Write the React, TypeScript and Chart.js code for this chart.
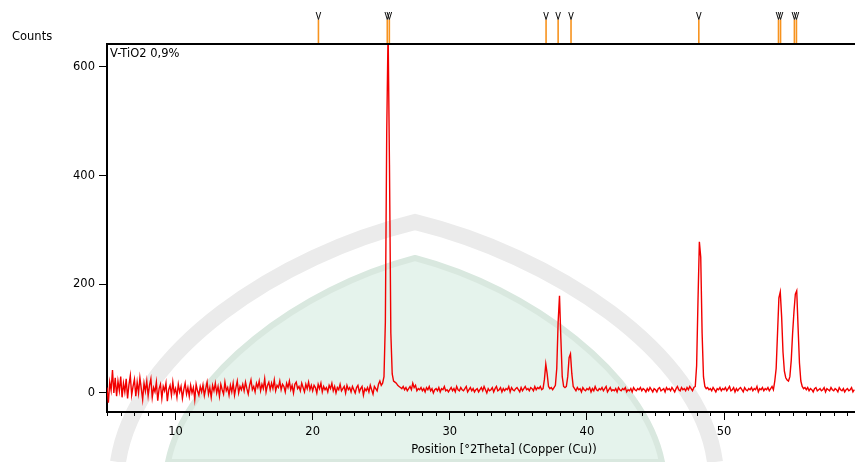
import React, { useEffect, useRef } from "react";
import { Chart, registerables } from "chart.js";

Chart.register(...registerables);

// XRD pattern: counts sampled every 0.1 deg 2Theta starting at 5.0 (one row per degree)
const startAngle = 5.0;
const angleStep = 0.1;
const counts: number[] = [
  10, -18, 20, 5, 42, 0, 28, -6, 22, 4, // 5
  30, -8, 18, 2, 26, -10, 15, 32, -4, 12, // 6
  25, -6, 20, 0, 28, 8, -12, 18, 3, 22, // 7
  -5, 14, 26, -8, 10, 2, 20, -14, 8, 16, // 8
  -10, 12, 4, 18, -15, 6, 14, -4, 20, 0, // 9
  8, -8, 16, 2, 12, -10, 6, 18, -2, 10, // 10
  -6, 14, 0, 10, -12, 16, 4, -4, 12, 2, // 11
  15, -5, 8, 20, -2, 10, -8, 14, 4, 18, // 12
  0, 12, -6, 16, 6, -2, 20, 4, 10, -4, // 13
  14, 2, 18, -4, 10, 22, 0, 12, 6, 16, // 14
  4, 20, 8, -2, 14, 24, 6, 12, 2, 18, // 15
  10, 22, 4, 16, 8, 26, 2, 14, 20, 6, // 16
  18, 8, 24, 4, 14, 10, 22, 6, 16, 12, // 17
  2, 18, 10, 22, 6, 14, 0, 16, 20, 8, // 18
  12, 4, 18, 10, 2, 16, 8, 20, 6, 14, // 19
  4, 14, 10, 0, 16, 8, 18, 2, 12, 6, // 20
  10, 2, 14, 8, 18, 4, 12, 0, 10, 6, // 21
  16, 4, 8, 12, 0, 14, 6, 10, 2, 12, // 22
  6, 0, 10, 14, 2, 8, 12, -4, 8, 4, // 23
  10, 2, 14, 6, -2, 12, 8, 4, 16, 22, // 24
  14, 18, 30, 130, 480, 670, 420, 110, 35, 22, // 25
  20, 18, 14, 12, 10, 8, 12, 6, 10, 4, // 26
  8, 12, 6, 18, 10, 14, 4, 8, 6, 10, // 27
  4, 8, 2, 10, 6, 12, 4, 8, 0, 6, // 28
  8, 4, 10, 2, 8, 6, 12, 4, 6, 2, // 29
  6, 10, 4, 8, 2, 12, 6, 4, 10, 6, // 30
  4, 8, 12, 2, 6, 10, 4, 8, 2, 6, // 31
  8, 2, 6, 10, 4, 12, 6, 0, 8, 4, // 32
  6, 10, 2, 8, 12, 4, 6, 10, 2, 8, // 33
  4, 8, 6, 12, 2, 10, 6, 4, 8, 10, // 34
  6, 2, 10, 4, 8, 12, 6, 8, 4, 10, // 35
  8, 4, 12, 6, 10, 8, 12, 6, 8, 25, // 36
  53, 35, 12, 8, 10, 6, 10, 14, 45, 130, // 37
  179, 100, 30, 12, 10, 12, 30, 65, 72, 35, // 38
  12, 8, 4, 10, 6, 8, 2, 10, 6, 4, // 39
  8, 6, 10, 2, 8, 4, 12, 6, 4, 8, // 40
  6, 10, 4, 8, 12, 2, 6, 10, 4, 6, // 41
  4, 8, 2, 10, 6, 4, 8, 6, 10, 2, // 42
  6, 4, 8, 2, 10, 6, 4, 8, 6, 10, // 43
  4, 8, 6, 2, 8, 4, 10, 6, 2, 8, // 44
  6, 2, 8, 10, 4, 6, 8, 2, 10, 6, // 45
  8, 4, 10, 6, 2, 8, 12, 6, 4, 10, // 46
  6, 8, 4, 10, 6, 12, 8, 4, 10, 12, // 47
  50, 170, 278, 250, 110, 30, 12, 8, 10, 6, // 48
  8, 4, 10, 6, 2, 8, 6, 10, 4, 8, // 49
  6, 10, 4, 8, 12, 4, 6, 10, 2, 8, // 50
  4, 8, 10, 6, 2, 10, 6, 4, 8, 6, // 51
  10, 4, 8, 6, 12, 2, 8, 6, 10, 4, // 52
  8, 6, 10, 4, 8, 12, 6, 22, 45, 110, // 53
  175, 186, 140, 75, 40, 28, 24, 22, 30, 60, // 54
  110, 150, 182, 188, 120, 55, 22, 12, 8, 10, // 55
  6, 10, 4, 8, 6, 2, 8, 10, 4, 6, // 56
  8, 4, 6, 10, 2, 8, 6, 4, 10, 6, // 57
  4, 8, 6, 2, 10, 6, 4, 8, 2, 6, // 58
  8, 4, 6, 10, 2, 6, // 59
];

// Reference pattern peak positions (markers above the plot)
const refPeaks: number[] = [20.42, 25.44, 25.59, 37.02, 37.9, 38.84, 48.16, 53.97, 54.12, 55.13, 55.28];

const xMajorTicks: number[] = [10, 20, 30, 40, 50];
const yTicks: number[] = [0, 200, 400, 600];
const xMin = 5;
const xMax = 59.55;
const yMin = -35;
const yMax = 642;

const sampleLabel = "V-TiO2 0,9%";
const yAxisLabel = "Counts";
const xAxisLabel = "Position [°2Theta] (Copper (Cu))";

const FONT = "DejaVu Sans";
const FONT_SIZE = 11.5;

const decorPlugin = {
  id: "decor",
  beforeDraw(chart: any) {
    const ctx = chart.ctx;
    ctx.save();
    // faint watermark shapes
    ctx.fillStyle = "#e5f3ec";
    ctx.beginPath();
    ctx.moveTo(168, 462);
    ctx.bezierCurveTo(185, 375, 300, 288, 415, 258);
    ctx.bezierCurveTo(530, 288, 645, 375, 662, 462);
    ctx.closePath();
    ctx.fill();
    ctx.strokeStyle = "#d9e8df";
    ctx.lineWidth = 6;
    ctx.stroke();
    ctx.strokeStyle = "#ebebeb";
    ctx.lineWidth = 16;
    ctx.beginPath();
    ctx.moveTo(118, 462);
    ctx.bezierCurveTo(135, 350, 280, 255, 415, 222);
    ctx.bezierCurveTo(550, 255, 700, 350, 715, 462);
    ctx.stroke();
    ctx.restore();
  },
  afterDraw(chart: any) {
    const ctx = chart.ctx;
    const area = chart.chartArea;
    const xs = chart.scales.x;
    ctx.save();
    // top frame line
    ctx.strokeStyle = "#000";
    ctx.lineWidth = 2;
    ctx.beginPath();
    ctx.moveTo(area.left - 1, area.top);
    ctx.lineTo(area.right, area.top);
    ctx.stroke();
    // minor ticks on x axis
    ctx.lineWidth = 1;
    for (let v = Math.ceil(xMin); v <= xMax; v++) {
      if (v % 10 === 0) continue;
      const px = Math.round(xs.getPixelForValue(v)) + 0.5;
      ctx.beginPath();
      ctx.moveTo(px, area.bottom);
      ctx.lineTo(px, area.bottom + 4);
      ctx.stroke();
    }
    // reference peak markers
    for (const p of refPeaks) {
      const px = xs.getPixelForValue(p);
      ctx.strokeStyle = "#f7931e";
      ctx.lineWidth = 1.6;
      ctx.beginPath();
      ctx.moveTo(px, 19.5);
      ctx.lineTo(px, area.top - 1);
      ctx.stroke();
      ctx.strokeStyle = "#111";
      ctx.lineWidth = 1;
      ctx.beginPath();
      ctx.moveTo(px - 2.3, 12);
      ctx.lineTo(px, 19.5);
      ctx.lineTo(px + 2.3, 12);
      ctx.stroke();
    }
    // texts
    ctx.fillStyle = "#000";
    ctx.font = `${FONT_SIZE}px "${FONT}"`;
    ctx.textBaseline = "alphabetic";
    ctx.textAlign = "left";
    ctx.fillText(yAxisLabel, 12, 40);
    ctx.fillText(sampleLabel, area.left + 3, 57);
    ctx.textAlign = "center";
    ctx.fillText(xAxisLabel, 504, 453);
    ctx.restore();
  },
};

export default function App() {
  const ref = useRef<HTMLCanvasElement | null>(null);
  useEffect(() => {
    if (!ref.current) return;
    const points = counts.map((c, i) => ({ x: +(startAngle + i * angleStep).toFixed(2), y: c }));
    const chart = new Chart(ref.current, {
      type: "line",
      data: {
        datasets: [
          {
            data: points,
            borderColor: "#f20000",
            borderWidth: 1.4,
            pointRadius: 0,
            tension: 0,
            fill: false,
          },
        ],
      },
      options: {
        animation: false,
        responsive: false,
        maintainAspectRatio: false,
        layout: { padding: { top: 44, left: 0, right: 0, bottom: 0 } },
        plugins: { legend: { display: false }, tooltip: { enabled: false } },
        scales: {
          x: {
            type: "linear",
            min: xMin,
            max: xMax,
            afterFit: (s: any) => {
              s.height = 50;
            },
            afterBuildTicks: (s: any) => {
              s.ticks = xMajorTicks.map((v) => ({ value: v }));
            },
            ticks: {
              color: "#000",
              font: { family: FONT, size: FONT_SIZE },
              padding: 5,
              maxRotation: 0,
              autoSkip: false,
            },
            grid: { drawOnChartArea: false, drawTicks: true, tickLength: 8, tickColor: "#000", tickWidth: 1 },
            border: { display: true, color: "#000", width: 2 },
          },
          y: {
            type: "linear",
            min: yMin,
            max: yMax,
            afterFit: (s: any) => {
              s.width = 107;
            },
            afterBuildTicks: (s: any) => {
              s.ticks = yTicks.map((v) => ({ value: v }));
            },
            ticks: {
              color: "#000",
              font: { family: FONT, size: FONT_SIZE },
              padding: 4,
              autoSkip: false,
            },
            grid: { drawOnChartArea: false, drawTicks: true, tickLength: 8, tickColor: "#000", tickWidth: 1 },
            border: { display: true, color: "#000", width: 2 },
          },
        },
      },
      plugins: [decorPlugin],
    });
    return () => chart.destroy();
  }, []);
  return (
    <div style={{ position: "fixed", left: 0, top: 0, width: 855, height: 462, background: "#fff", overflow: "hidden" }}>
      <canvas ref={ref} width={855} height={462} style={{ display: "block", width: 855, height: 462 }} />
    </div>
  );
}
